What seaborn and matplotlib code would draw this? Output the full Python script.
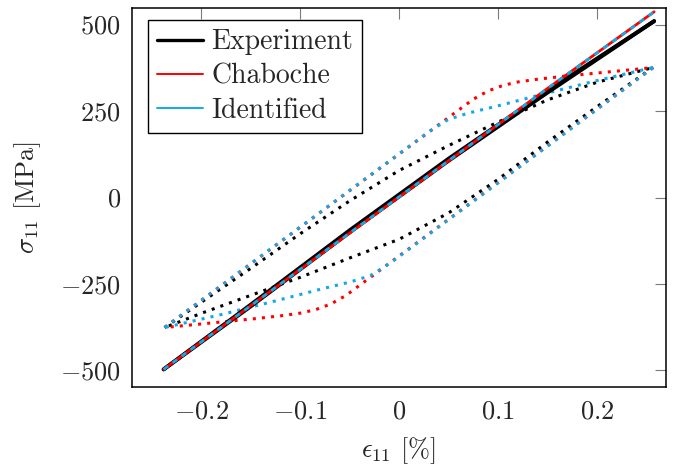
import matplotlib
matplotlib.use("Agg")
import matplotlib.pyplot as plt
import seaborn as sns
import pandas as pd

# ---- large-amplitude loop (nearly elastic) ----
big_exp_up_strain = [-0.238, -0.15, -0.05, 0.05, 0.15, 0.258]
big_exp_up_stress = [-497, -310, -95, 112, 308, 510]
big_exp_dn_strain = [0.258, 0.15, 0.05, -0.05, -0.15, -0.238]
big_exp_dn_stress = [510, 303, 106, -101, -315, -497]
big_model_strain = [-0.238, -0.15, -0.05, 0.05, 0.15, 0.258]
big_model_stress = [-497, -313, -103, 106, 315, 537]

# ---- smaller loop (elasto-plastic) ----
exp_up_strain = [-0.237, -0.2, -0.15, -0.1, -0.05, 0.0, 0.05, 0.1, 0.15, 0.2, 0.257]
exp_up_stress = [-376, -303, -205, -105, -10, 78, 150, 218, 282, 333, 376]
exp_dn_strain = [0.257, 0.2, 0.15, 0.1, 0.05, 0.0, -0.05, -0.1, -0.15, -0.2, -0.237]
exp_dn_stress = [376, 262, 160, 52, -45, -121, -175, -231, -283, -335, -376]

cha_up_strain = [-0.237, 0.075, 0.09, 0.105, 0.12, 0.14, 0.165, 0.19, 0.215, 0.24, 0.257]
cha_up_stress = [-376, 284, 308, 324, 334, 342, 350, 357, 364, 371, 376]
cha_dn_strain = [0.257, -0.054, -0.069, -0.084, -0.099, -0.119, -0.144, -0.169, -0.194, -0.219, -0.237]
cha_dn_stress = [376, -284, -308, -324, -334, -342, -350, -357, -364, -371, -376]

idf_up_strain = [-0.237, 0.03, 0.05, 0.07, 0.1, 0.15, 0.2, 0.257]
idf_up_stress = [-376, 190, 226, 244, 265, 302, 338, 376]
idf_dn_strain = [0.257, -0.009, -0.029, -0.049, -0.079, -0.129, -0.179, -0.237]
idf_dn_stress = [376, -190, -226, -244, -265, -302, -338, -376]

series_names = ["Experiment", "Chaboche", "Identified"]
x_ticks = [-0.2, -0.1, 0.0, 0.1, 0.2]
x_tick_labels = ["$-0.2$", "$-0.1$", "$0$", "$0.1$", "$0.2$"]
y_ticks = [-500, -250, 0, 250, 500]
y_tick_labels = ["$-500$", "$-250$", "$0$", "$250$", "$500$"]

BLACK = "#000000"
RED = "#ff0000"
CYAN = "#12a9e6"

sns.set_theme(style="white")
plt.rcParams.update({
    "font.family": ["cmr10", "DejaVu Serif"],
    "mathtext.fontset": "cm",
    "axes.unicode_minus": False,
    "axes.formatter.use_mathtext": True,
    "font.size": 19,
})

fig = plt.figure(figsize=(6.91, 4.66), dpi=100)
ax = fig.add_axes([132 / 691, 1 - 387 / 466, (666 - 132) / 691, (387 - 8) / 466])


def curve(xs, ys, **kw):
    df = pd.DataFrame({"strain": xs, "stress": ys})
    sns.lineplot(data=df, x="strain", y="stress", sort=False, estimator=None,
                 ax=ax, legend=False, **kw)


dot = (0, (1, 2))

# elasto-plastic loop, dotted
curve(exp_up_strain, exp_up_stress, color=BLACK, lw=2.2, linestyle=dot)
curve(exp_dn_strain, exp_dn_stress, color=BLACK, lw=2.2, linestyle=dot)
curve(cha_up_strain, cha_up_stress, color=RED, lw=2.2, linestyle=dot)
curve(cha_dn_strain, cha_dn_stress, color=RED, lw=2.2, linestyle=dot)
curve(idf_up_strain, idf_up_stress, color=CYAN, lw=2.2, linestyle=dot)
curve(idf_dn_strain, idf_dn_stress, color=CYAN, lw=2.2, linestyle=dot)

# large elastic loop
curve(big_exp_up_strain, big_exp_up_stress, color=BLACK, lw=2.8)
curve(big_exp_dn_strain, big_exp_dn_stress, color=BLACK, lw=2.8)
curve(big_model_strain, big_model_stress, color=RED, lw=2.0)
curve(big_model_strain, big_model_stress, color=CYAN, lw=2.0, linestyle=(0, (2, 2)))

ax.set_xlim(-0.27, 0.27)
ax.set_ylim(-548, 548)
ax.set_xticks(x_ticks)
ax.set_xticklabels(x_tick_labels)
ax.set_yticks(y_ticks)
ax.set_yticklabels(y_tick_labels)
ax.tick_params(direction="in", length=8, width=0.8, color="#7a7a7a",
               top=True, right=True, labelsize=19)
ax.tick_params(axis="x", pad=9)
ax.tick_params(axis="y", pad=8)
for s in ax.spines.values():
    s.set_color("black")
    s.set_linewidth(1.1)

ax.set_xlabel(r"$\epsilon_{11}$ [%]", fontsize=19, labelpad=9)
ax.set_ylabel(r"$\sigma_{11}$ [MPa]", fontsize=19, labelpad=12)

handles = [
    plt.Line2D([], [], color=BLACK, lw=2.4),
    plt.Line2D([], [], color=RED, lw=1.4),
    plt.Line2D([], [], color=CYAN, lw=1.4),
]
leg = ax.legend(handles, series_names, loc="upper left",
                bbox_to_anchor=(16 / 534, 1 - 12 / 379), fontsize=20,
                frameon=True, fancybox=False, framealpha=1, edgecolor="black",
                borderpad=0.33, labelspacing=0.28, handlelength=1.65,
                handletextpad=0.3, borderaxespad=0.0)
leg.get_frame().set_linewidth(1.0)

fig.savefig("out.png", dpi=100)
